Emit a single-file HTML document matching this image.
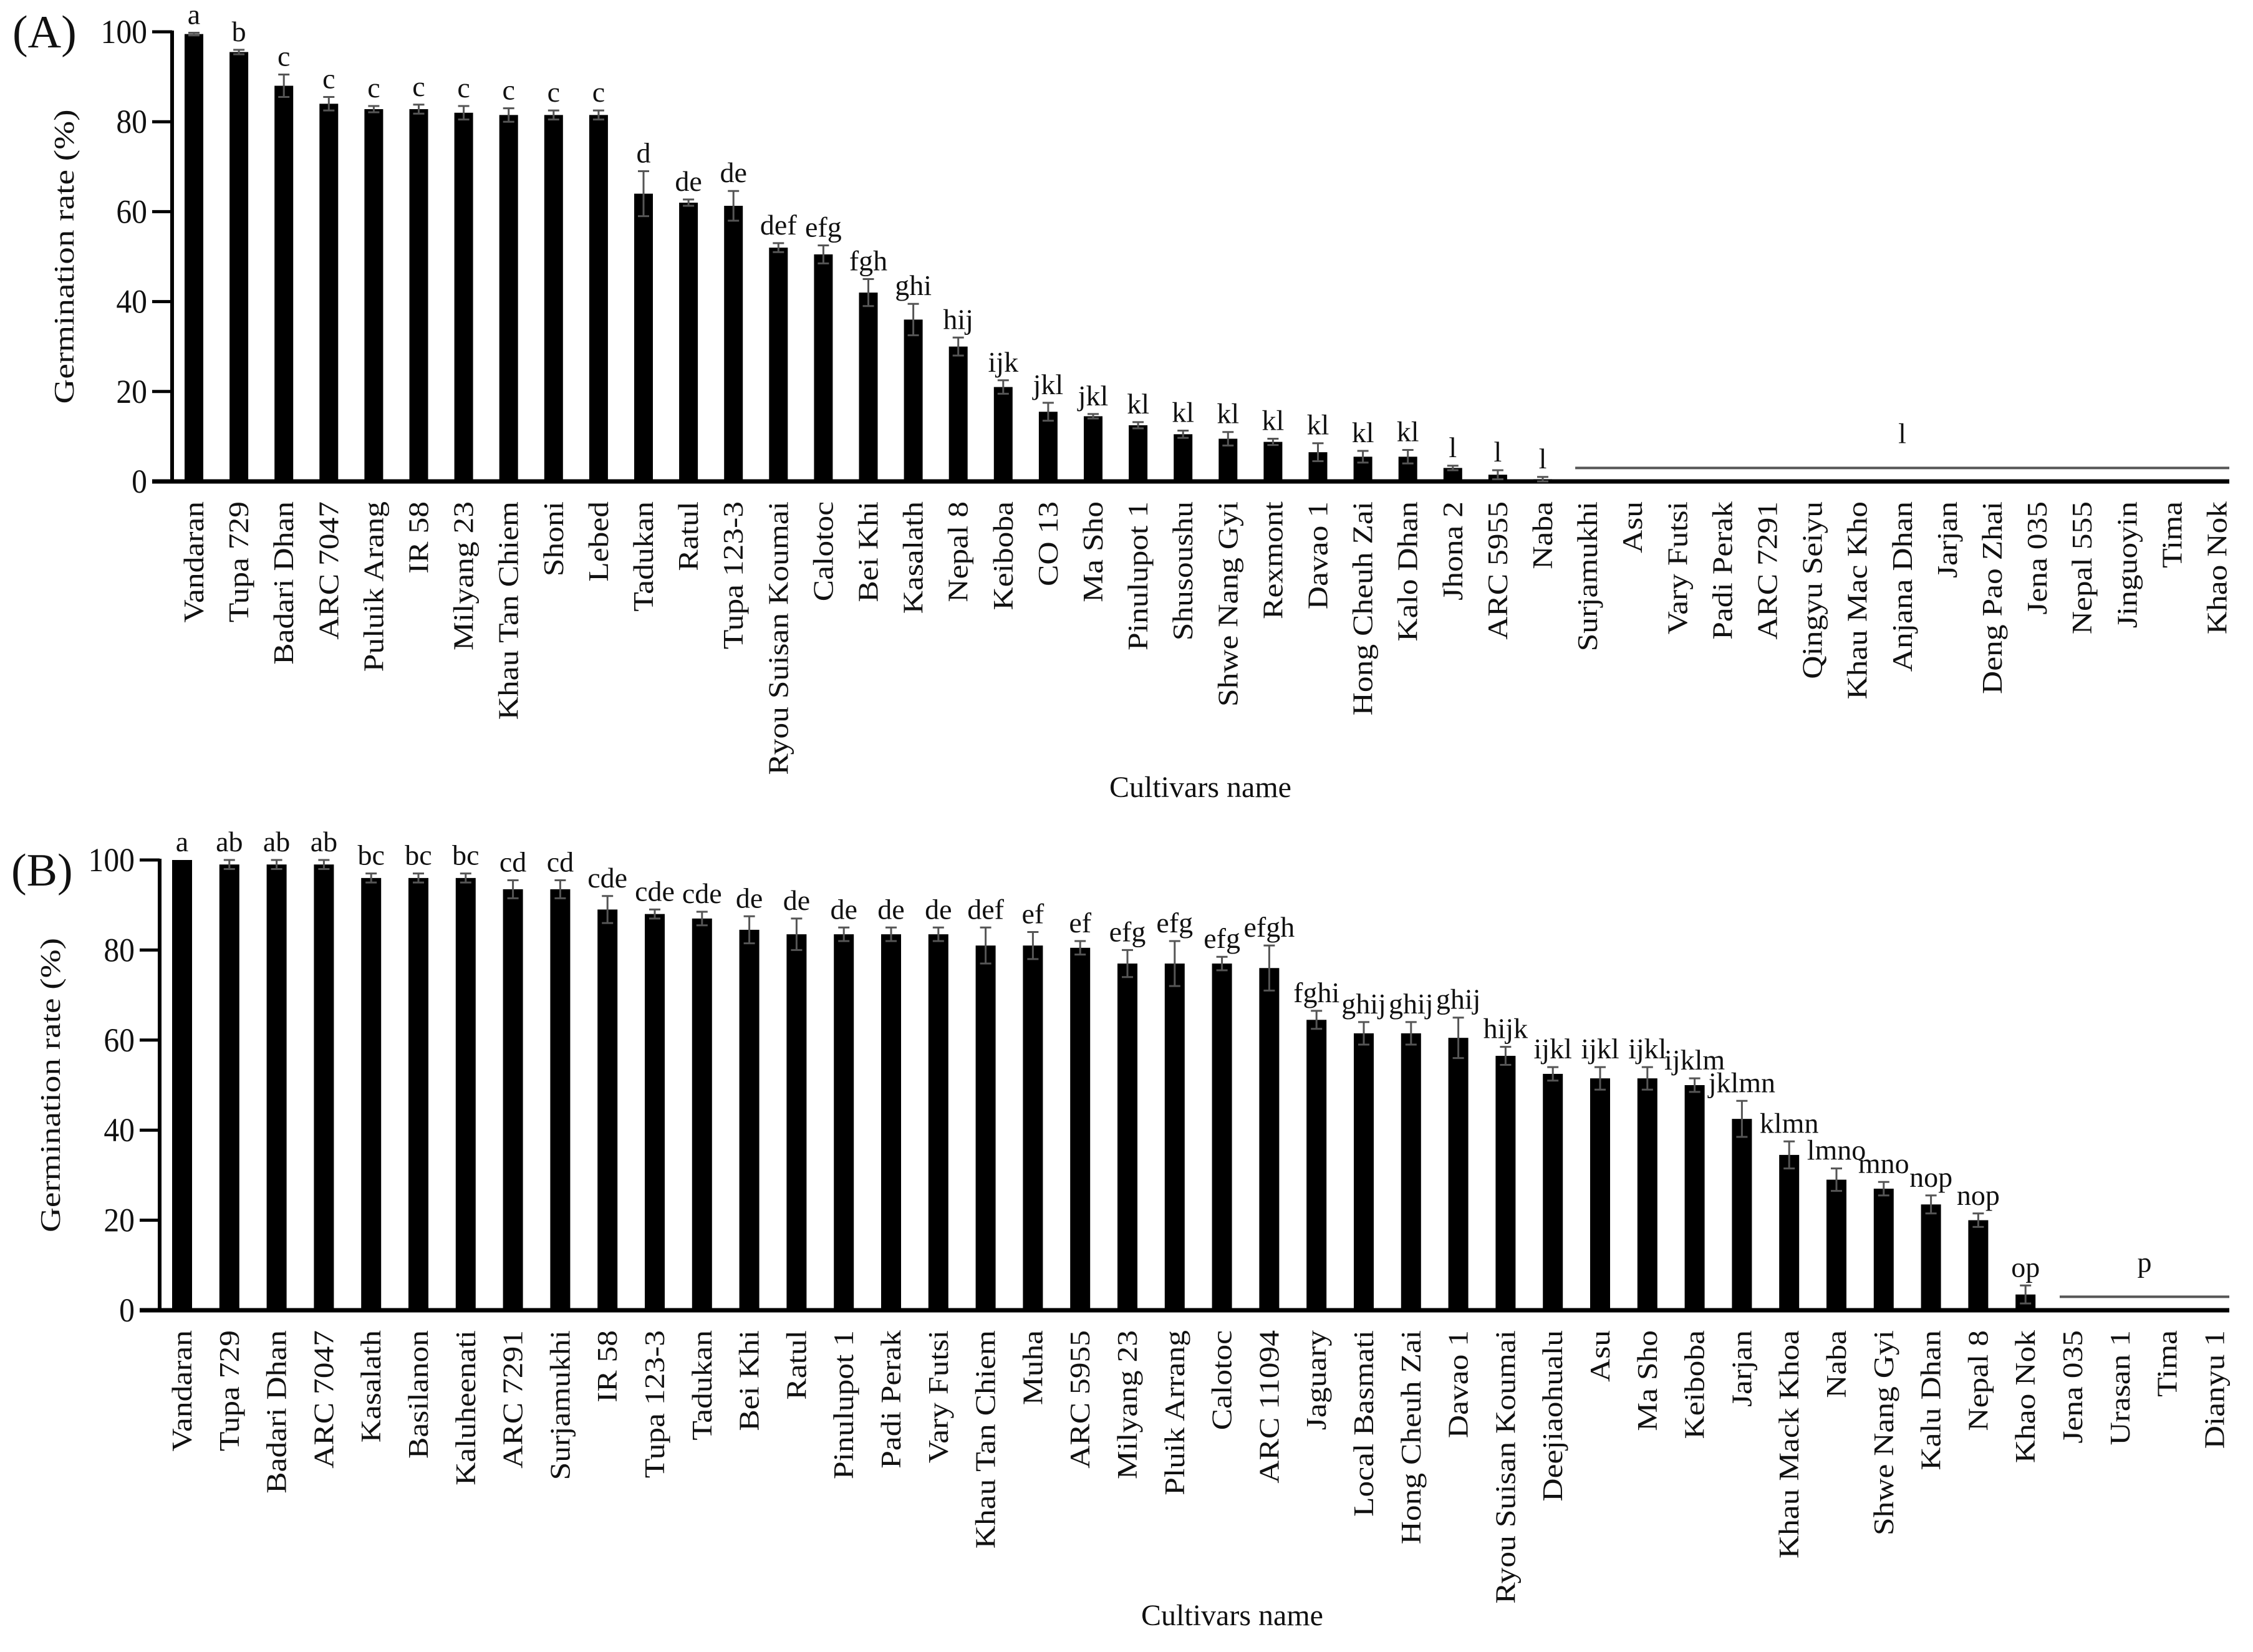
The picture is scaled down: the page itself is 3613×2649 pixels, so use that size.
<!DOCTYPE html>
<html><head><meta charset="utf-8"><style>
html,body{margin:0;padding:0;background:#fff;}
svg{display:block;}
text{font-family:"Liberation Serif",serif;fill:#111;}
</style></head>
<body>
<svg id="chart" xmlns="http://www.w3.org/2000/svg" width="3613" height="2649" viewBox="0 0 3613 2649">
</svg>
<script>
const catsA = ["Vandaran","Tupa 729","Badari Dhan","ARC 7047","Puluik Arang","IR 58","Milyang 23","Khau Tan Chiem","Shoni","Lebed","Tadukan","Ratul","Tupa 123-3","Ryou Suisan Koumai","Calotoc","Bei Khi","Kasalath","Nepal 8","Keiboba","CO 13","Ma Sho","Pinulupot 1","Shusoushu","Shwe Nang Gyi","Rexmont","Davao 1","Hong Cheuh Zai","Kalo Dhan","Jhona 2","ARC 5955","Naba","Surjamukhi","Asu","Vary Futsi","Padi Perak","ARC 7291","Qingyu Seiyu","Khau Mac Kho","Anjana Dhan","Jarjan","Deng Pao Zhai","Jena 035","Nepal 555","Jinguoyin","Tima","Khao Nok"];
const valsA = [99.5,95.5,88,84,82.8,82.8,82,81.5,81.5,81.5,64,62,61.3,52,50.5,42,36,30,21,15.5,14.5,12.5,10.5,9.5,8.8,6.5,5.5,5.5,3,1.5,0.5,0,0,0,0,0,0,0,0,0,0,0,0,0,0,0];
const errA = [0.3,0.5,2.5,1.5,0.7,1,1.5,1.5,1,1,5,0.7,3.3,1,2,3,3.5,2,1.5,2,0.5,0.7,0.8,1.5,0.7,2,1.3,1.5,0.5,1,0.5,0,0,0,0,0,0,0,0,0,0,0,0,0,0,0];
const letA = ["a","b","c","c","c","c","c","c","c","c","d","de","de","def","efg","fgh","ghi","hij","ijk","jkl","jkl","kl","kl","kl","kl","kl","kl","kl","l","l","l"];
const groupA = {from:31, value:3, letter:"l"};

const catsB = ["Vandaran","Tupa 729","Badari Dhan","ARC 7047","Kasalath","Basilanon","Kaluheenati","ARC 7291","Surjamukhi","IR 58","Tupa 123-3","Tadukan","Bei Khi","Ratul","Pinulupot 1","Padi Perak","Vary Futsi","Khau Tan Chiem","Muha","ARC 5955","Milyang 23","Pluik Arrang","Calotoc","ARC 11094","Jaguary","Local Basmati","Hong Cheuh Zai","Davao 1","Ryou Suisan Koumai","Deejiaohualu","Asu","Ma Sho","Keiboba","Jarjan","Khau Mack Khoa","Naba","Shwe Nang Gyi","Kalu Dhan","Nepal 8","Khao Nok","Jena 035","Urasan 1","Tima","Dianyu 1"];
const valsB = [100,99,99,99,96,96,96,93.5,93.5,89,88,87,84.5,83.5,83.5,83.5,83.5,81,81,80.5,77,77,77,76,64.5,61.5,61.5,60.5,56.5,52.5,51.5,51.5,50,42.5,34.5,29,27,23.5,20,3.5,0,0,0,0];
const errB = [0,1,1,1,1,1,1,2,2,3,1,1.5,3,3.5,1.5,1.5,1.5,4,3,1.5,3,5,1.5,5,2,2.5,2.5,4.5,2,1.5,2.5,2.5,1.5,4,3,2.5,1.5,2,1.5,2,0,0,0,0];
const letB = ["a","ab","ab","ab","bc","bc","bc","cd","cd","cde","cde","cde","de","de","de","de","de","def","ef","ef","efg","efg","efg","efgh","fghi","ghij","ghij","ghij","hijk","ijkl","ijkl","ijkl","ijklm","jklmn","klmn","lmno","mno","nop","nop","op"];
const groupB = {from:40, value:3, letter:"p"};
const ticks = [0,20,40,60,80,100];

const svg = document.getElementById('chart');
const NS = "http://www.w3.org/2000/svg";
function mk(tag, attrs, parent){
  const e = document.createElementNS(NS, tag);
  for (const k in attrs) e.setAttribute(k, attrs[k]);
  (parent||svg).appendChild(e);
  return e;
}

function panel(p){
  const g = mk('g', {});
  
  
  const y = v => p.y0 - (p.y0 - p.y100) * v / 100;
  const x = i => p.x1 + i * p.dx;
  const pl = mk('text', {x:p.lx, y:p.ly, 'font-size':74}, g);
  pl.textContent = p.label;
  
  
  const ya = mk('line', {x1:p.ax, y1:p.y100-2, x2:p.ax, y2:p.y0+3, stroke:'#000','stroke-width':6}, g);
  
  
  ticks.forEach(t => {
    const tl = mk('line', {x1:p.ax-32, y1:y(t), x2:p.ax, y2:y(t), stroke:'#000','stroke-width':5}, g);
    
    
    const tt = mk('text', {x:0, y:0, 'font-size':54, 'text-anchor':'end', transform:`translate(${p.ax-40},${y(t)+18}) scale(0.92,1)`}, g);
    tt.textContent = t;
    
    
  });
  const yt = mk('text', {x:0, y:0, 'font-size':46, 'text-anchor':'middle', transform:`translate(${p.ytx},${(p.y0+p.y100)/2}) rotate(-90) scale(1.2,1)`}, g);
  yt.textContent = 'Germination rate (%)';
  
  
  const xa = mk('line', {x1:p.ax-32, y1:p.y0, x2:p.xend, y2:p.y0, stroke:'#000','stroke-width':7}, g);
  
  
  p.cats.forEach((c, i) => {
    const v = p.vals[i], e = p.errs[i];
    if (v > 0) {
      const b = mk('rect', {x:x(i)-p.bw/2, y:y(v), width:p.bw, height:p.y0-y(v), fill:'#000'}, g);
      
      
    }
    if (e > 0) {
      const eb = mk('path', {d:`M${x(i)} ${y(v+e)}V${y(Math.max(v-e,0))}M${x(i)-9} ${y(v+e)}H${x(i)+9}M${x(i)-9} ${y(Math.max(v-e,0))}H${x(i)+9}`, stroke:'#555','stroke-width':3, fill:'none'}, g);
      
      
    }
    if (i < p.lets.length) {
      const lt = mk('text', {x:x(i), y:y(v+e)-14, 'font-size':46, 'text-anchor':'middle'}, g);
      lt.textContent = p.lets[i];
      
      
    }
    const xl = mk('text', {x:0, y:0, 'font-size':46, 'text-anchor':'end', transform:`translate(${x(i)+15},${p.y0+32}) rotate(-90) scale(1.12,1)`}, g);
    xl.textContent = c;
    
    
  });
  const gx1 = x(p.group.from) - p.bw/2 - 5;
  const gl = mk('line', {x1:gx1, y1:y(p.group.value), x2:p.xend, y2:y(p.group.value), stroke:'#555','stroke-width':4}, g);
  
  
  const gt = mk('text', {x:(gx1+p.xend)/2, y:y(p.group.value)-40, 'font-size':46, 'text-anchor':'middle'}, g);
  gt.textContent = p.group.letter;
  
  
  const xt = mk('text', {x:p.xtx, y:p.xty, 'font-size':48, 'text-anchor':'middle'}, g);
  xt.textContent = 'Cultivars name';
  
  
}

panel({name:'panel-a', label:'(A)', lx:20, ly:76, ax:276, y0:772, y100:51, x1:311, dx:72.1, bw:30, xend:3575,
  cats:catsA, vals:valsA, errs:errA, lets:letA, group:groupA, ytx:118, xtx:1925, xty:1278});
panel({name:'panel-b', label:'(B)', lx:18, ly:1420, ax:256, y0:2101, y100:1379, x1:292, dx:75.8, bw:32, xend:3575,
  cats:catsB, vals:valsB, errs:errB, lets:letB, group:groupB, ytx:96, xtx:1976, xty:2606});
</script>
</body></html>
